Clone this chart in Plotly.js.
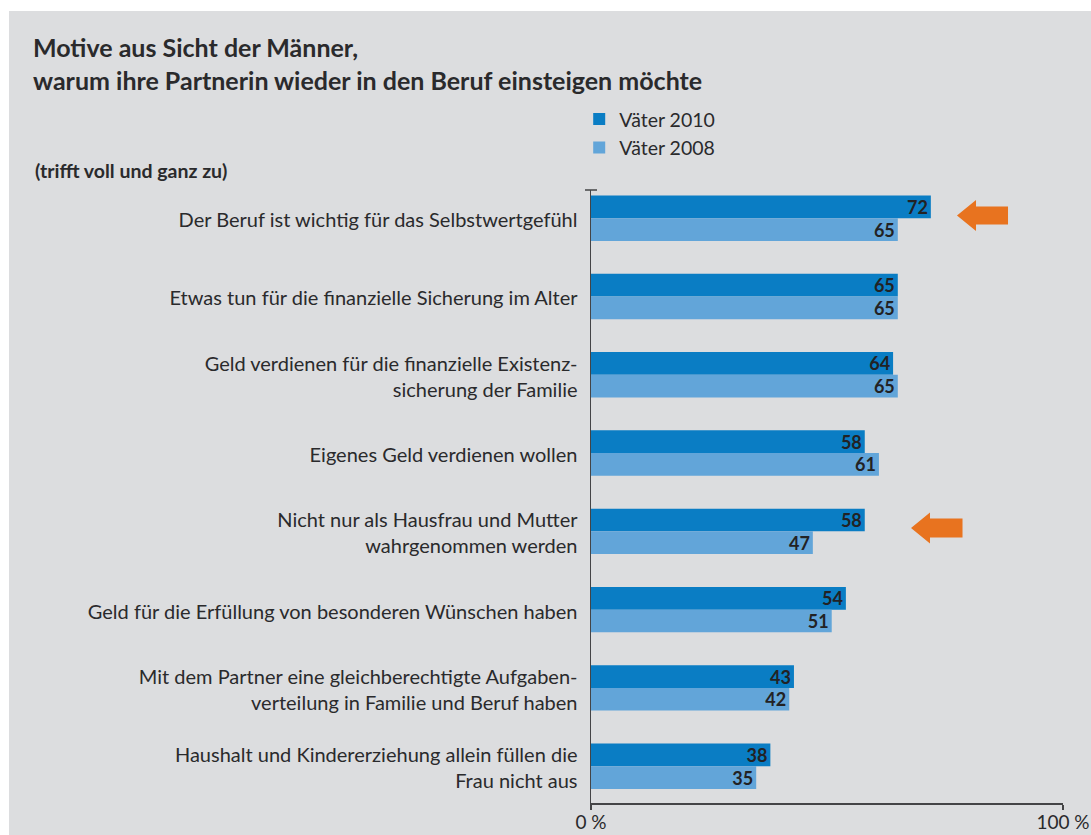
<!DOCTYPE html>
<html>
<head>
<meta charset="utf-8">
<script src="https://cdn.plot.ly/plotly-3.0.1.min.js"></script>
<style>
  html, body { margin: 0; padding: 0; background: #ffffff; }
  #chart { position: absolute; left: 9px; top: 11px; width: 1082px; height: 824px; }
</style>
</head>
<body>
<div id="chart"></div>
<script>
const categories = [
  'Der Beruf ist wichtig für das Selbstwertgefühl',
  'Etwas tun für die finanzielle Sicherung im Alter',
  'Geld verdienen für die finanzielle Existenz-<br>sicherung der Familie',
  'Eigenes Geld verdienen wollen',
  'Nicht nur als Hausfrau und Mutter<br>wahrgenommen werden',
  'Geld für die Erfüllung von besonderen Wünschen haben',
  'Mit dem Partner eine gleichberechtigte Aufgaben-<br>verteilung in Familie und Beruf haben',
  'Haushalt und Kindererziehung allein füllen die<br>Frau nicht aus'
];
const vaeter2010 = [72, 65, 64, 58, 58, 54, 43, 38];
const vaeter2008 = [65, 65, 65, 61, 47, 51, 42, 35];
const seriesNames = ['Väter 2010', 'Väter 2008'];
const xTickVals = [0, 100];
const xTickText = ['0 %', '100 %'];

const FONT = 'Lato, "Noto Sans", "DejaVu Sans", sans-serif';
const TEXT = '#2a2a2c';
const AXIS = '#444446';
const C2010 = '#0a7dc4';
const C2008 = '#62a5d9';
const ORANGE = '#e8731f';

// plot area geometry (page pixels) for decoration shapes
const PL = 591, PR = 1063, PT = 190, PB = 803;
const px = X => ((X - PL) / (PR - PL)).toFixed(4);
const py = Y => ((PB - Y) / (PB - PT)).toFixed(4);
function poly(pts) {
  return 'M' + pts.map(p => px(p[0]) + ',' + py(p[1])).join(' L') + ' Z';
}

function barTrace(name, values, color) {
  return {
    type: 'bar',
    orientation: 'h',
    name: name,
    y: categories,
    x: values,
    text: values.map(String),
    textposition: 'inside',
    insidetextanchor: 'end',
    textangle: 0,
    constraintext: 'none',
    textfont: { family: FONT, size: 18, color: '#222224', weight: 700 },
    marker: { color: color, line: { width: 0 } },
    hoverinfo: 'x+name',
    cliponaxis: false
  };
}

const data = [
  barTrace(seriesNames[0], vaeter2010, C2010),
  barTrace(seriesNames[1], vaeter2008, C2008)
];

const layout = {
  width: 1082,
  height: 824,
  paper_bgcolor: '#dcdddf',
  plot_bgcolor: 'rgba(0,0,0,0)',
  margin: { l: 582, r: 28, t: 179, b: 32, pad: 0 },
  font: { family: FONT, color: TEXT, size: 20 },
  title: {
    text: '<b>Motive aus Sicht der Männer,<br>warum ihre Partnerin wieder in den Beruf einsteigen möchte</b>',
    font: { family: FONT, size: 25, color: TEXT },
    x: 24 / 1082,
    xanchor: 'left',
    y: 1 - 46 / 824,
    yanchor: 'top'
  },
  barmode: 'group',
  bargap: 0.42,
  bargroupgap: 0,
  showlegend: true,
  legend: {
    x: -0.025,
    xanchor: 'left',
    y: 1.147,
    yanchor: 'top',
    traceorder: 'normal',
    bgcolor: 'rgba(0,0,0,0)',
    font: { family: FONT, size: 19.5, color: TEXT },
    itemclick: false,
    itemdoubleclick: false
  },
  xaxis: {
    range: [0, 100],
    autorange: false,
    showgrid: false,
    zeroline: false,
    showline: true,
    linecolor: AXIS,
    linewidth: 1.5,
    ticks: 'outside',
    ticklen: 5,
    tickwidth: 1.5,
    tickcolor: AXIS,
    tickvals: xTickVals,
    ticktext: xTickText,
    ticklabelstandoff: -3,
    tickfont: { family: FONT, size: 19, color: TEXT },
    fixedrange: true
  },
  yaxis: {
    type: 'category',
    range: [7.47, -0.36],
    autorange: false,
    showgrid: false,
    zeroline: false,
    showline: true,
    linecolor: AXIS,
    linewidth: 1.5,
    ticks: '',
    ticklabelstandoff: 8,
    ticklabelshift: -2,
    tickfont: { family: FONT, size: 20, color: TEXT },
    fixedrange: true
  },
  annotations: [
    {
      text: '<b>(trifft voll und ganz zu)</b>',
      xref: 'paper', yref: 'paper',
      x: (33 - PL) / (PR - PL), xanchor: 'left',
      y: (PB - 170) / (PB - PT), yanchor: 'middle',
      showarrow: false,
      font: { family: FONT, size: 19.5, color: TEXT }
    }
  ],
  shapes: [
    // cap at top of the y axis
    { type: 'line', xref: 'paper', yref: 'paper',
      x0: px(585), x1: px(597), y0: 1, y1: 1,
      line: { color: AXIS, width: 1.5 } },
    // highlight arrows
    { type: 'path', xref: 'paper', yref: 'paper',
      path: poly([[957, 215.5], [976, 200], [976, 206.5], [1008, 206.5], [1008, 224.5], [976, 224.5], [976, 231]]),
      fillcolor: ORANGE, line: { width: 0 } },
    { type: 'path', xref: 'paper', yref: 'paper',
      path: poly([[911, 528], [930, 512.5], [930, 518.5], [962.5, 518.5], [962.5, 537.5], [930, 537.5], [930, 543.5]]),
      fillcolor: ORANGE, line: { width: 0 } }
  ]
};

Plotly.newPlot('chart', data, layout, { displayModeBar: false, staticPlot: true });
</script>
</body>
</html>
